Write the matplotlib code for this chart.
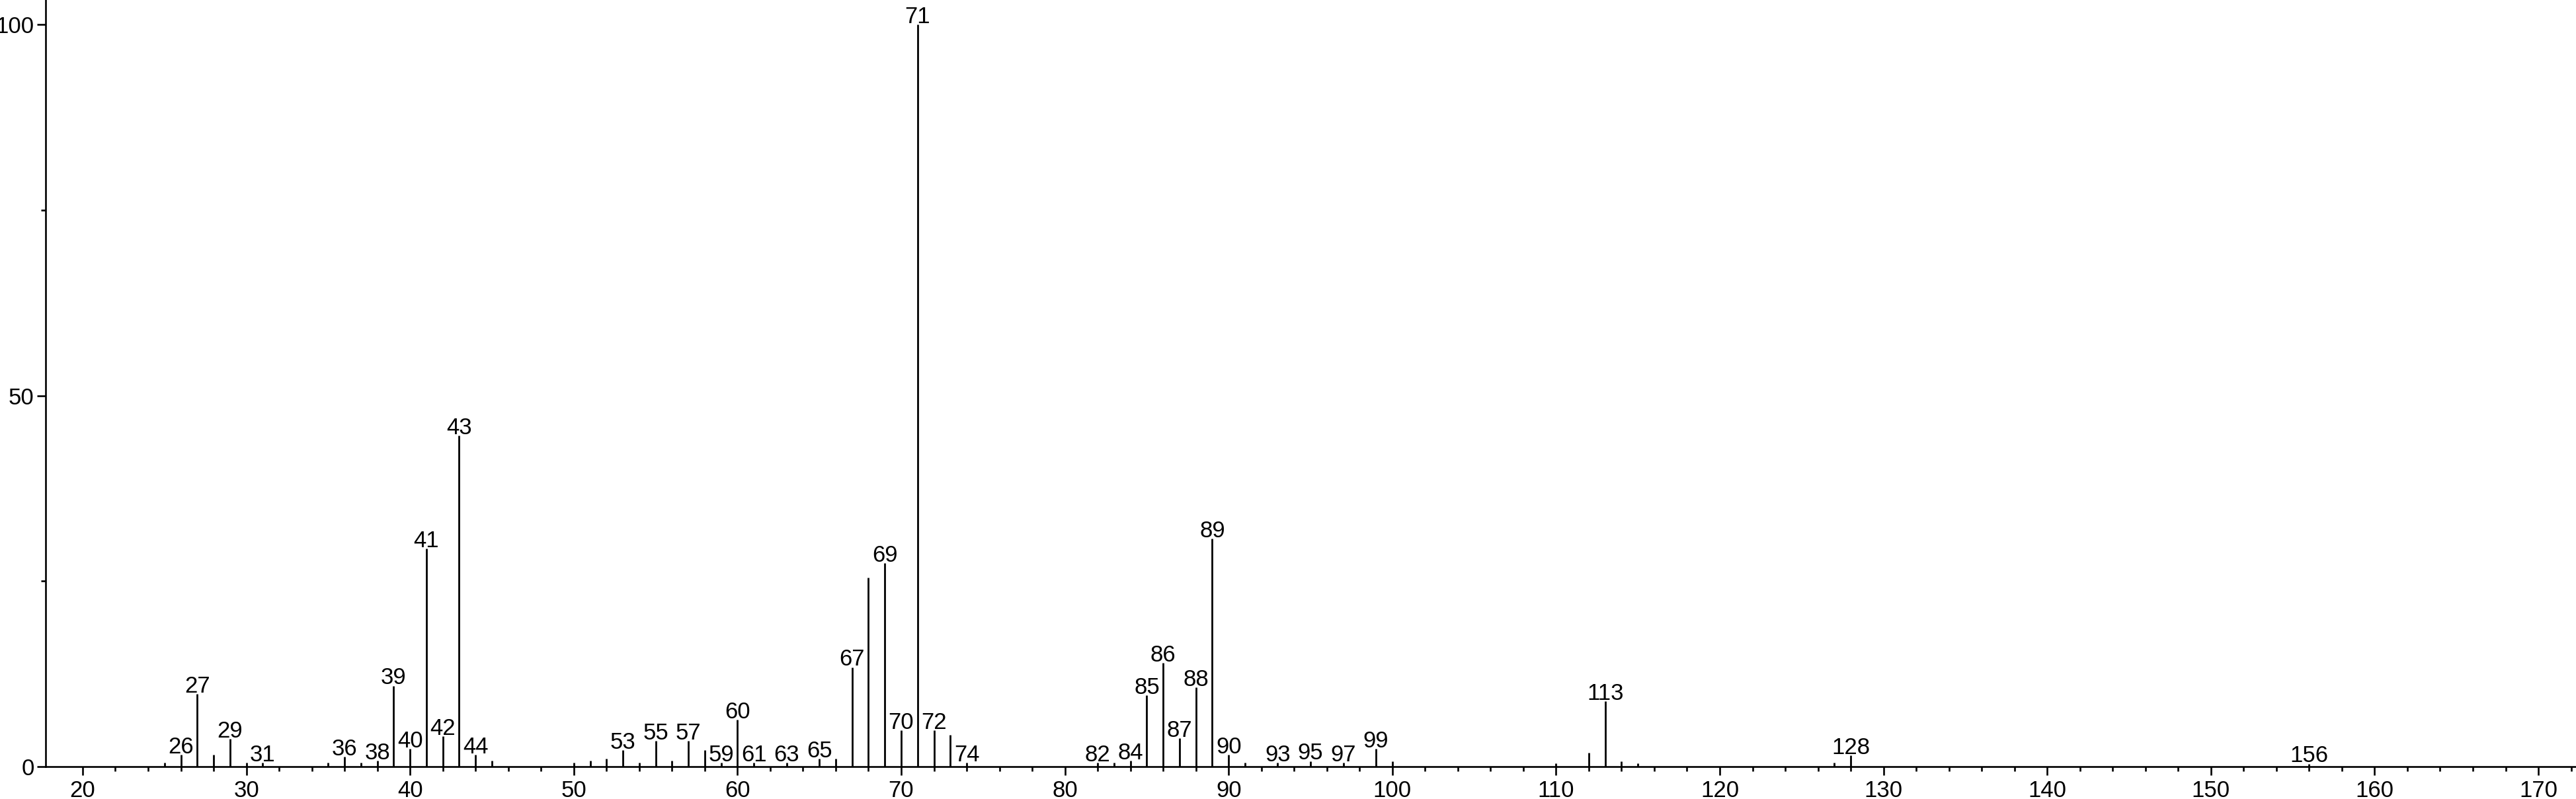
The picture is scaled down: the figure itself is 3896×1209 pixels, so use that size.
import matplotlib
matplotlib.use("Agg")
import matplotlib.pyplot as plt
from matplotlib.ticker import FixedLocator

plt.rcParams['font.family'] = ['Liberation Sans', 'DejaVu Sans']

# m/z values and relative intensities (%)
mz = [25, 26, 27, 28, 29, 30, 31, 35, 36, 37, 38, 39, 40, 41, 42, 43, 44, 45,
      50, 51, 52, 53, 54, 55, 56, 57, 58, 59, 60, 61, 63, 65, 66, 67, 68, 69,
      70, 71, 72, 73, 74, 82, 83, 84, 85, 86, 87, 88, 89, 90, 91, 93, 95, 97,
      99, 100, 110, 112, 113, 114, 115, 127, 128, 156]
intensity = [0.5, 1.6, 9.8, 1.6, 3.7, 0.5, 0.5, 0.5, 1.3, 0.5, 0.8, 10.9, 2.4, 29.4, 4.1, 44.6, 1.6, 0.8,
             0.5, 0.8, 1.1, 2.2, 0.5, 3.5, 0.8, 3.5, 2.2, 0.5, 6.3, 0.5, 0.5, 1.1, 1.1, 13.4, 25.5, 27.4,
             4.9, 100.0, 4.9, 4.3, 0.5, 0.5, 0.5, 0.8, 9.6, 14.0, 3.8, 10.7, 30.7, 1.6, 0.5, 0.5, 0.75, 0.5,
             2.4, 0.75, 0.45, 1.9, 8.8, 0.75, 0.45, 0.5, 1.5, 0.4]
labeled_mz = [26, 27, 29, 31, 36, 38, 39, 40, 41, 42, 43, 44, 53, 55, 57, 59, 60, 61, 63, 65,
              67, 69, 70, 71, 72, 74, 82, 84, 85, 86, 87, 88, 89, 90, 93, 95, 97, 99, 113, 128, 156]
x_major = [20, 30, 40, 50, 60, 70, 80, 90, 100, 110, 120, 130, 140, 150, 160, 170]
y_major = [0, 50, 100]
y_minor = [25, 75]

W, H = 3896, 1209
fig = plt.figure(figsize=(W / 100, H / 100), dpi=100)
ax = fig.add_axes([69 / W, 49 / H, 1 - 69 / W, 1160 / H])

ax.vlines(mz, 0, intensity, colors='black', linewidth=2.0)

lookup = dict(zip(mz, intensity))
for m in labeled_mz:
    ax.annotate(str(m), xy=(m, lookup[m]), xytext=(0, -3.5), textcoords='offset points',
                ha='center', va='bottom', fontsize=25, color='black')

ax.set_xlim(17.74, 172.3)
ax.set_ylim(0, 103.3)

ax.xaxis.set_major_locator(FixedLocator(x_major))
x_minor = [v for v in range(22, 173, 2) if v % 10 != 0]
ax.xaxis.set_minor_locator(FixedLocator(x_minor))
ax.yaxis.set_major_locator(FixedLocator(y_major))
ax.yaxis.set_minor_locator(FixedLocator(y_minor))

ax.tick_params(axis='both', which='major', direction='out', length=9.5, width=1.9,
               labelsize=25, color='black')
ax.tick_params(axis='x', which='major', pad=5)
ax.tick_params(axis='y', which='major', pad=3)
ax.tick_params(axis='both', which='minor', direction='out', length=5, width=1.9, color='black')

for s in ['top', 'right']:
    ax.spines[s].set_visible(False)
for s in ['left', 'bottom']:
    ax.spines[s].set_linewidth(1.9)
    ax.spines[s].set_color('black')

fig.savefig('out.png', dpi=100, facecolor='white')
